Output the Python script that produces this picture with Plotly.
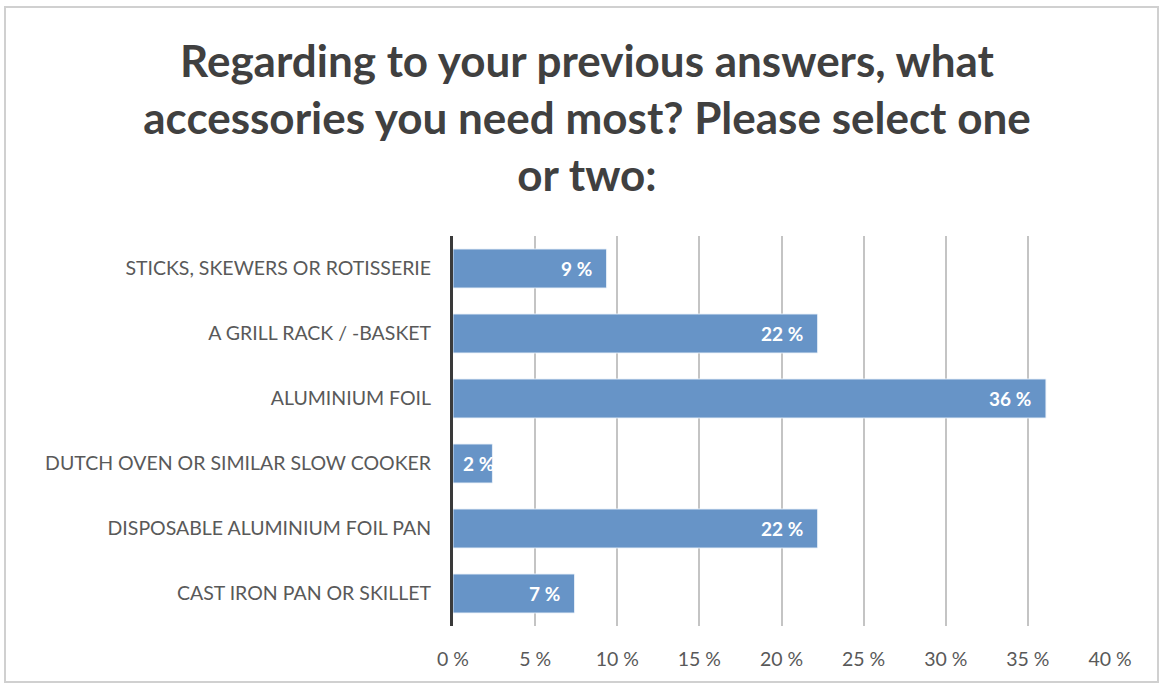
import plotly.graph_objects as go

# Survey answers, listed top to bottom
categories = [
    "STICKS, SKEWERS OR ROTISSERIE",
    "A GRILL RACK / -BASKET",
    "ALUMINIUM FOIL",
    "DUTCH OVEN OR SIMILAR SLOW COOKER",
    "DISPOSABLE ALUMINIUM FOIL PAN",
    "CAST IRON PAN OR SKILLET",
]
shares = [9.35, 22.2, 36.1, 2.4, 22.2, 7.4]
tick_values = [0, 5, 10, 15, 20, 25, 30, 35, 40]
tick_labels = ["0 %", "5 %", "10 %", "15 %", "20 %", "25 %", "30 %", "35 %", "40 %"]

title_text = ("Regarding to your previous answers, what<br>"
              "accessories you need most? Please select one<br>"
              "or two:")

W, H = 1164, 684
ML, MR, MT, MB = 453, 54, 236, 58
PW, PH = W - ML - MR, H - MT - MB
X_MAX = 40
PX_PER_UNIT = PW / X_MAX
LABEL_SIZE = 19
LABEL_PAD = 13

fig = go.Figure()
fig.add_trace(go.Bar(
    x=shares,
    y=categories,
    orientation="h",
    marker=dict(color="#6794c7", line=dict(color="rgba(235,242,250,0.9)", width=1)),
    hoverinfo="skip",
))

# Value labels at the inside end of each bar; short bars keep the label at the base
for cat, v in zip(categories, shares):
    label = f"{v:.0f} %"
    approx_w = 0.55 * LABEL_SIZE * len(label)
    fits = v * PX_PER_UNIT >= approx_w + LABEL_PAD + 4
    fig.add_annotation(
        x=v if fits else 0, y=cat, xref="x", yref="y",
        text=label, showarrow=False,
        xanchor="right" if fits else "left",
        xshift=-LABEL_PAD if fits else 8,
        font=dict(family="Lato", size=LABEL_SIZE, color="white", weight="bold"),
    )

# Outer chart border, placed in pixel terms relative to the plot area
def px_x(p):
    return (p - ML) / PW

def px_y(p):
    return (H - MB - p) / PH

fig.add_shape(type="rect", xref="paper", yref="paper",
              x0=px_x(5), x1=px_x(1158), y0=px_y(682), y1=px_y(7),
              line=dict(color="#d0d0d0", width=2), fillcolor="rgba(0,0,0,0)",
              layer="below")

fig.update_layout(
    width=W, height=H,
    margin=dict(l=ML, r=MR, t=MT, b=MB),
    paper_bgcolor="white",
    plot_bgcolor="white",
    showlegend=False,
    bargap=0.4,
    title=dict(
        text=title_text,
        x=587 / W, xanchor="center",
        y=1 - 77 / H, yanchor="middle",
        font=dict(family="Lato", size=44, color="#404040", weight="bold"),
    ),
    xaxis=dict(
        range=[0, X_MAX],
        tickvals=tick_values,
        ticktext=tick_labels,
        showgrid=True,
        gridcolor="#c4c4c4",
        gridwidth=1.5,
        zeroline=False,
        showline=False,
        ticks="",
        tickfont=dict(family="Lato", size=19.5, color="#595959"),
        ticklabelstandoff=19,
        fixedrange=True,
    ),
    yaxis=dict(
        autorange="reversed",
        showgrid=False,
        showline=True,
        linecolor="#3a3a3a",
        linewidth=3,
        ticks="",
        tickfont=dict(family="Lato", size=19.5, color="#595959"),
        ticklabelstandoff=15,
        fixedrange=True,
    ),
)

fig.write_html("out.html")
